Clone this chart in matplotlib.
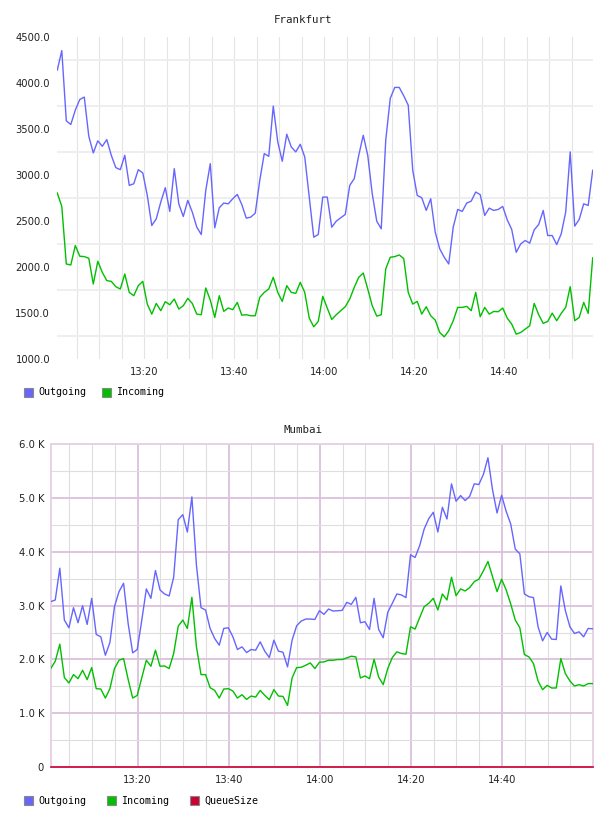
import matplotlib
matplotlib.use("Agg")
import matplotlib.pyplot as plt
import matplotlib.dates as mdates
from matplotlib.patches import Patch
from matplotlib.ticker import FixedLocator, MultipleLocator, FuncFormatter
import pandas as pd
import numpy as np

# ---------------- data ----------------
fra_start = "2024-01-01 13:00:38"
mum_start = "2024-01-01 13:00:55"

fra_outgoing = [4141, 4352, 3589, 3549, 3705, 3821, 3847, 3421, 3240, 3371, 3312, 3385, 3214, 3080,
                3058, 3214, 2887, 2905, 3058, 3022, 2778, 2451, 2524, 2706, 2862, 2604, 3069, 2687,
                2549, 2724, 2597, 2433, 2353, 2833, 3123, 2426, 2644, 2695, 2687, 2742, 2789,
                2680, 2531, 2542, 2586, 2942, 3233, 3203, 3749, 3360, 3149, 3443, 3305, 3251, 3334,
                3196, 2760, 2324, 2353, 2760, 2760, 2433, 2498, 2535, 2571, 2887, 2960, 3214, 3432,
                3214, 2796, 2498, 2415, 3378, 3832, 3952, 3952, 3861, 3759, 3051,
                2778, 2753, 2615, 2742, 2378, 2197, 2106, 2033, 2433, 2626, 2604, 2695, 2716, 2815,
                2786, 2560, 2640, 2615, 2626, 2658, 2513, 2408, 2160, 2251, 2288, 2259, 2404, 2462,
                2615, 2342, 2342, 2244, 2360, 2597, 3251, 2444, 2517, 2687, 2669, 3051]
fra_incoming = [2804, 2658, 2033, 2022, 2233, 2117, 2113, 2095, 1815, 2062, 1942, 1852, 1844, 1786,
                1761, 1924, 1724, 1688, 1797, 1844, 1597, 1488, 1604, 1525, 1623, 1590, 1652, 1543,
                1579, 1659, 1604, 1488, 1481, 1772, 1641, 1452, 1688, 1518, 1554, 1536, 1615,
                1477, 1481, 1470, 1470, 1670, 1724, 1761, 1888, 1724, 1626, 1797, 1724, 1713, 1833,
                1724, 1444, 1350, 1408, 1681, 1554, 1430, 1481, 1525, 1568, 1652, 1779, 1888, 1935,
                1761, 1579, 1466, 1481, 1979, 2106, 2113, 2131, 2091, 1724, 1597,
                1626, 1488, 1568, 1470, 1423, 1288, 1241, 1307, 1416, 1561, 1561, 1572, 1525, 1724,
                1459, 1561, 1488, 1517, 1514, 1554, 1444, 1379, 1270, 1288, 1325, 1361, 1604, 1481,
                1387, 1408, 1499, 1416, 1496, 1561, 1786, 1416, 1452, 1615, 1496, 2099]

mum_outgoing = [3074, 3105, 3696, 2732, 2589, 2962, 2682, 2999, 2651, 3136, 2464, 2421, 2078, 2315,
                2981, 3261, 3416, 2670, 2122, 2184, 2732, 3311, 3136, 3653, 3292, 3217, 3180, 3528,
                4599, 4692, 4369, 5022, 3750, 2962, 2919, 2576, 2390, 2265, 2576, 2589, 2421,
                2184, 2234, 2128, 2184, 2172, 2327, 2153, 2035, 2358, 2153, 2134, 1861, 2358, 2626,
                2713, 2751, 2751, 2744, 2906, 2838, 2937, 2900, 2906, 2912, 3062, 3024, 3155, 2682,
                2701, 2558, 3136, 2558, 2402, 2875, 3043, 3217, 3199, 3149, 3945,
                3896, 4113, 4425, 4617, 4736, 4369, 4829, 4611, 5265, 4941, 5047, 4954, 5034, 5265,
                5252, 5439, 5750, 5159, 4723, 5053, 4754, 4518, 4051, 3964, 3217, 3167, 3149, 2607,
                2346, 2502, 2377, 2371, 3367, 2906, 2607, 2483, 2514, 2421, 2576, 2570]
mum_incoming = [1830, 1966, 2284, 1662, 1562, 1718, 1643, 1798, 1624, 1848, 1456, 1450, 1282, 1456,
                1830, 1985, 2016, 1630, 1282, 1332, 1662, 1985, 1873, 2172, 1873, 1879, 1830, 2110,
                2620, 2732, 2576, 3155, 2234, 1718, 1718, 1475, 1425, 1282, 1450, 1456, 1413,
                1282, 1344, 1257, 1319, 1301, 1425, 1332, 1251, 1438, 1319, 1313, 1145, 1655, 1848,
                1854, 1892, 1935, 1830, 1948, 1954, 1985, 1985, 1998, 1998, 2029, 2060, 2047, 1655,
                1693, 1643, 2004, 1674, 1531, 1830, 2035, 2141, 2110, 2097, 2607,
                2564, 2775, 2981, 3043, 3136, 2919, 3217, 3105, 3528, 3186, 3311, 3273, 3336, 3447,
                3491, 3647, 3821, 3541, 3261, 3491, 3292, 3031, 2732, 2589, 2091, 2047, 1923, 1599,
                1438, 1518, 1469, 1469, 2016, 1736, 1599, 1506, 1531, 1506, 1550, 1550]
mum_queuesize = [0] * 120

fra_titles = "Frankfurt"
mum_titles = "Mumbai"
fra_series = ["Outgoing", "Incoming"]
mum_series = ["Outgoing", "Incoming", "QueueSize"]

# ---------------- style ----------------
C_OUT = "#6666ff"
C_IN = "#00c000"
C_Q = "#cc0033"
MONO = "DejaVu Sans Mono"
FS = 7.2
MINOR_MIN = [5, 10, 15, 25, 30, 35, 45, 50, 55]

fra_t = pd.date_range(fra_start, periods=len(fra_outgoing), freq="60s")
mum_t = pd.date_range(mum_start, periods=len(mum_outgoing), freq="60s")

fig = plt.figure(figsize=(6.08, 8.16), dpi=100)
W, H = 608.0, 816.0

# ---------- Frankfurt ----------
ax1 = fig.add_axes([57.3 / W, 1 - 359 / H, 535.4 / W, 322 / H])
ax1.plot(fra_t, fra_outgoing, color=C_OUT, lw=1.0, zorder=3)
ax1.plot(fra_t, fra_incoming, color=C_IN, lw=1.0, zorder=3)
ax1.set_xlim(fra_t[0], fra_t[-1])
ax1.set_ylim(1000, 4500)
ax1.yaxis.set_major_locator(MultipleLocator(500))
ax1.yaxis.set_minor_locator(FixedLocator(np.arange(1250, 4500, 500)))
ax1.yaxis.set_major_formatter(FuncFormatter(lambda v, p: f"{v:.1f}"))
ax1.xaxis.set_major_locator(mdates.MinuteLocator(byminute=[0, 20, 40]))
ax1.xaxis.set_minor_locator(mdates.MinuteLocator(byminute=MINOR_MIN))
ax1.xaxis.set_major_formatter(mdates.DateFormatter("%H:%M"))
ax1.grid(which="minor", axis="y", color="#eeeeee", lw=1.4)
ax1.grid(which="both", axis="x", color="#e4e4e4", lw=0.8)
ax1.set_axisbelow(True)
for s in ax1.spines.values():
    s.set_visible(False)
ax1.tick_params(which="both", length=0)
ax1.tick_params(axis="y", pad=5.2, labelsize=FS, labelcolor="#222222")
ax1.tick_params(axis="x", pad=6.0, labelsize=FS, labelcolor="#222222")

fig.text(303 / W, 1 - 20 / H, fra_titles, ha="center", va="center",
         family=MONO, fontsize=7.8, color="#222222")

h1 = [Patch(facecolor=C_OUT, edgecolor="#888888", lw=0.8, label=fra_series[0]),
      Patch(facecolor=C_IN, edgecolor="#888888", lw=0.8, label=fra_series[1])]
fig.legend(handles=h1, loc="center left", bbox_to_anchor=(24 / W, 1 - 392.5 / H),
           ncol=2, frameon=False, borderpad=0, borderaxespad=0,
           handlelength=0.9, handleheight=1.0, handletextpad=0.55,
           columnspacing=1.55, prop={"family": MONO, "size": FS})

# ---------- Mumbai ----------
ax2 = fig.add_axes([50.7 / W, 1 - 767 / H, 542 / W, 322.7 / H])
ax2.plot(mum_t, mum_outgoing, color=C_OUT, lw=1.0, zorder=3)
ax2.plot(mum_t, mum_incoming, color=C_IN, lw=1.0, zorder=3)
ax2.plot(mum_t, mum_queuesize, color=C_Q, lw=1.2, zorder=4, clip_on=False)
ax2.set_xlim(mum_t[0], mum_t[-1])
ax2.set_ylim(0, 6000)
ax2.yaxis.set_major_locator(MultipleLocator(1000))
ax2.yaxis.set_minor_locator(FixedLocator(np.arange(500, 6000, 1000)))
ax2.yaxis.set_major_formatter(FuncFormatter(lambda v, p: "0" if v == 0 else f"{v / 1000:.1f} K"))
ax2.xaxis.set_major_locator(mdates.MinuteLocator(byminute=[0, 20, 40]))
ax2.xaxis.set_minor_locator(mdates.MinuteLocator(byminute=MINOR_MIN))
ax2.xaxis.set_major_formatter(mdates.DateFormatter("%H:%M"))
ax2.grid(which="minor", axis="both", color="#dedede", lw=0.8)
ax2.grid(which="major", axis="both", color="#dcc0dc", lw=1.3)
ax2.set_axisbelow(True)
for s in ax2.spines.values():
    s.set_color("#e6d2e6")
    s.set_linewidth(1.4)
ax2.tick_params(which="both", length=0)
ax2.tick_params(axis="y", pad=4.8, labelsize=FS, labelcolor="#222222")
ax2.tick_params(axis="x", pad=6.0, labelsize=FS, labelcolor="#222222")

fig.text(303 / W, 1 - 430 / H, mum_titles, ha="center", va="center",
         family=MONO, fontsize=7.8, color="#222222")

h2 = [Patch(facecolor=C_OUT, edgecolor="#888888", lw=0.8, label=mum_series[0]),
      Patch(facecolor=C_IN, edgecolor="#888888", lw=0.8, label=mum_series[1]),
      Patch(facecolor=C_Q, edgecolor="#888888", lw=0.8, label=mum_series[2])]
fig.legend(handles=h2, loc="center left", bbox_to_anchor=(24 / W, 1 - 800.5 / H),
           ncol=3, frameon=False, borderpad=0, borderaxespad=0,
           handlelength=0.9, handleheight=1.0, handletextpad=0.55,
           columnspacing=2.05, prop={"family": MONO, "size": FS})

fig.savefig("out.png", dpi=100, facecolor="white")
